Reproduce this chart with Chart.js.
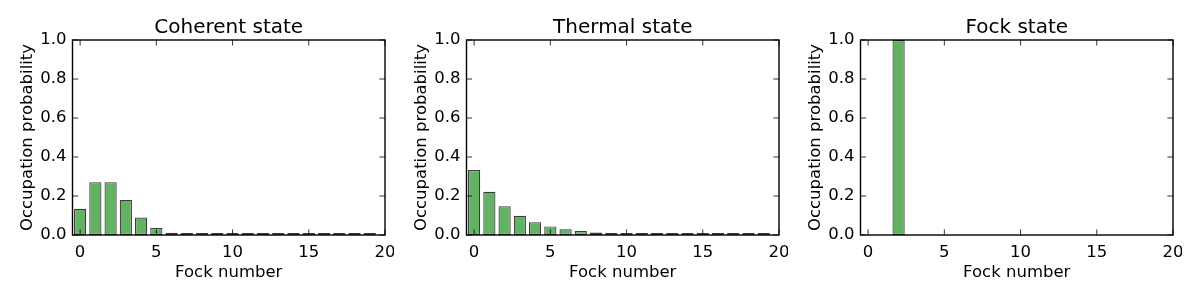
<!DOCTYPE html>
<html>
<head>
<meta charset="utf-8">
<script src="https://cdn.jsdelivr.net/npm/chart.js@4/dist/chart.umd.min.js"></script>
<style>
  body { margin: 0; background: #fff; }
  .box { position: absolute; top: 0; width: 394px; height: 300px; }
</style>
</head>
<body>
<div class="box" style="left:0px"><canvas id="coherent"></canvas></div>
<div class="box" style="left:394px"><canvas id="thermal"></canvas></div>
<div class="box" style="left:788px"><canvas id="fock"></canvas></div>
<script>
// fock numbers 0..19
var fockNumbers = [0, 1, 2, 3, 4, 5, 6, 7, 8, 9, 10, 11, 12, 13, 14, 15, 16, 17, 18, 19];

// occupation probabilities (tail bars are tiny but present)
var coherentProb = [0.135, 0.271, 0.271, 0.180, 0.090, 0.036, 0.012, 0.0034, 0.0009, 0.0002,
                    0.00004, 0.00001, 0.000001, 0.000001, 0.000001, 0.000001, 0.000001, 0.000001, 0.000001, 0.000001];
var thermalProb = [0.333, 0.222, 0.148, 0.099, 0.066, 0.044, 0.029, 0.020, 0.013, 0.009,
                   0.006, 0.004, 0.003, 0.002, 0.001, 0.001, 0.0006, 0.0004, 0.0003, 0.0002];
var fockProb = [0, 0, 1.0, 0, 0, 0, 0, 0, 0, 0, 0, 0, 0, 0, 0, 0, 0, 0, 0, 0];

var xTicks = [0, 5, 10, 15, 20];
var yTicks = [0, 0.2, 0.4, 0.6, 0.8, 1.0];

var fontFamily = "'DejaVu Sans', sans-serif";

// matplotlib classic look: frame + inward ticks on all four sides
var framePlugin = {
  id: 'frame',
  afterDatasetsDraw: function(chart) {
    var ctx = chart.ctx, a = chart.chartArea;
    var xs = chart.scales.x, ys = chart.scales.y;
    var len = 5.6;
    ctx.save();
    ctx.strokeStyle = '#000';
    ctx.lineWidth = 0.8;
    ctx.beginPath();
    xTicks.forEach(function(v) {
      var px = xs.getPixelForValue(v);
      ctx.moveTo(px, a.bottom); ctx.lineTo(px, a.bottom - len);
      ctx.moveTo(px, a.top); ctx.lineTo(px, a.top + len);
    });
    yTicks.forEach(function(v) {
      var py = ys.getPixelForValue(v);
      ctx.moveTo(a.left, py); ctx.lineTo(a.left + len, py);
      ctx.moveTo(a.right, py); ctx.lineTo(a.right - len, py);
    });
    ctx.stroke();
    ctx.lineWidth = 1.4;
    ctx.strokeRect(a.left, a.top, a.right - a.left, a.bottom - a.top);
    ctx.restore();
  }
};

function makeChart(id, title, probs, minLen) {
  var points = fockNumbers.map(function(n, i) { return { x: n, y: probs[i] }; });
  return new Chart(id, {
    type: 'bar',
    data: {
      datasets: [{
        data: points,
        backgroundColor: '#63b263',
        borderColor: '#3c3c3c',
        borderWidth: 1.2,
        borderSkipped: false,
        minBarLength: minLen,
        barPercentage: 0.8,
        categoryPercentage: 1.0
      }]
    },
    options: {
      responsive: true,
      maintainAspectRatio: false,
      animation: false,
      layout: { padding: { left: 0, right: 9, top: 0, bottom: 0 } },
      plugins: {
        legend: { display: false },
        tooltip: { enabled: false },
        title: {
          display: true,
          fullSize: false,
          text: title,
          color: '#000',
          font: { family: fontFamily, size: 20, weight: 'normal' },
          padding: { top: 16, bottom: 0 }
        }
      },
      scales: {
        x: {
          type: 'linear',
          min: -0.5,
          max: 20,
          offset: false,
          grid: { display: false, drawTicks: false },
          border: { display: false },
          afterBuildTicks: function(s) { s.ticks = xTicks.map(function(v) { return { value: v }; }); },
          afterFit: function(s) { s.height = 65; s.paddingLeft = 0; s.paddingRight = 0; },
          ticks: {
            color: '#000',
            padding: 8,
            maxRotation: 0,
            font: { family: fontFamily, size: 16.5 }
          },
          title: {
            display: true,
            text: 'Fock number',
            color: '#000',
            font: { family: fontFamily, size: 16.5 },
            padding: { top: 0, bottom: 17 }
          }
        },
        y: {
          min: 0,
          max: 1,
          grid: { display: false, drawTicks: false },
          border: { display: false },
          afterBuildTicks: function(s) { s.ticks = yTicks.map(function(v) { return { value: v }; }); },
          afterFit: function(s) { s.width = 72.5; },
          ticks: {
            color: '#000',
            padding: 6,
            font: { family: fontFamily, size: 16.5 },
            callback: function(v) { return v.toFixed(1); }
          },
          title: {
            display: true,
            text: 'Occupation probability',
            color: '#000',
            font: { family: fontFamily, size: 16.5 },
            padding: { top: 18, bottom: 0 }
          }
        }
      }
    },
    plugins: [framePlugin]
  });
}

makeChart('coherent', 'Coherent state', coherentProb, 2);
makeChart('thermal', 'Thermal state', thermalProb, 2);
makeChart('fock', 'Fock state', fockProb, 0);
</script>
</body>
</html>
